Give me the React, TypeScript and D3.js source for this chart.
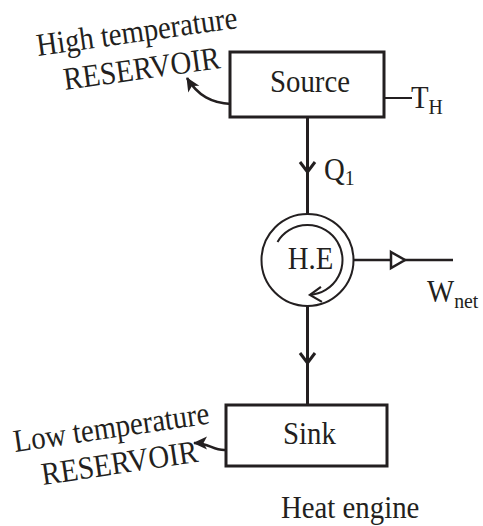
import { useEffect, useRef } from "react";
import * as d3 from "d3";

// diagram content
const boxLabels = ["Source", "Sink"];
const reservoirLabels = [
  ["High temperature", "RESERVOIR"],
  ["Low temperature", "RESERVOIR"],
];
const flowLabels = [
  { main: "Q", sub: "1" },
  { main: "W", sub: "net" },
];
const tempLabel = { main: "T", sub: "H" };
const engineLabel = "H.E";
const caption = "Heat engine";

const ink = "#231f20";
const font = "'Liberation Serif', 'Times New Roman', serif";
const fs = 32; // tall, slightly condensed serif
const squeeze = 0.9;

export default function App() {
  const svgRef = useRef<SVGSVGElement | null>(null);

  useEffect(() => {
    const width = 483;
    const height = 526;
    const svg = d3
      .select(svgRef.current)
      .attr("width", width)
      .attr("height", height);

    svg.selectAll("*").remove();

    const defs = svg.append("defs");
    defs
      .append("marker")
      .attr("id", "solidHead")
      .attr("viewBox", "-1 -7 16 14")
      .attr("refX", 13)
      .attr("refY", 0)
      .attr("markerWidth", 16)
      .attr("markerHeight", 14)
      .attr("markerUnits", "userSpaceOnUse")
      .attr("orient", "auto")
      .append("path")
      .attr("d", "M0,-6.5L14,0L0,6.5L3.5,0Z")
      .attr("fill", ink);

    const cx = 307.5;
    // vertical positions of the parts
    const y = d3
      .scaleOrdinal<string, number>()
      .domain(["sourceTop", "sourceBottom", "engine", "sinkTop", "sinkBottom"])
      .range([52, 117, 260, 405, 466]);
    const boxX = d3.scaleOrdinal<string, [number, number]>()
      .domain(boxLabels)
      .range([[230, 384], [226, 387]]);
    const r = 46;

    const g = svg.append("g");

    const label = (x: number, yy: number, txt: string, opts: { anchor?: string; rot?: number; size?: number } = {}) =>
      g.append("text")
        .attr("transform", `translate(${x},${yy}) rotate(${opts.rot ?? 0}) scale(${squeeze},1)`)
        .attr("text-anchor", opts.anchor ?? "start")
        .attr("font-family", font).attr("font-size", opts.size ?? fs)
        .attr("fill", ink)
        .text(txt);

    // main flow line
    g.append("line")
      .attr("x1", cx).attr("x2", cx)
      .attr("y1", y("sourceBottom")).attr("y2", y("engine") - r)
      .attr("stroke", ink).attr("stroke-width", 3);
    g.append("line")
      .attr("x1", cx).attr("x2", cx)
      .attr("y1", y("engine") + r).attr("y2", y("sinkTop"))
      .attr("stroke", ink).attr("stroke-width", 3);

    // chevrons on flow line
    const chevron = (yy: number) =>
      `M${cx - 7.5},${yy - 10}L${cx},${yy}L${cx + 7.5},${yy - 10}`;
    [172, 363].forEach((yy) => {
      g.append("path")
        .attr("d", chevron(yy))
        .attr("fill", "none")
        .attr("stroke", ink)
        .attr("stroke-width", 3);
    });

    // boxes
    const boxes = [
      { label: boxLabels[0], top: y("sourceTop"), bottom: y("sourceBottom"), ty: 92 },
      { label: boxLabels[1], top: y("sinkTop"), bottom: y("sinkBottom"), ty: 444 },
    ];
    boxes.forEach((b) => {
      const [x0, x1] = boxX(b.label);
      g.append("rect")
        .attr("x", x0).attr("y", b.top)
        .attr("width", x1 - x0).attr("height", b.bottom - b.top)
        .attr("fill", "#fff")
        .attr("stroke", ink).attr("stroke-width", 3);
      label((x0 + x1) / 2 + 3, b.ty, b.label, { anchor: "middle" });
    });

    // T_H tick
    g.append("line")
      .attr("x1", 384).attr("x2", 412)
      .attr("y1", 98).attr("y2", 98)
      .attr("stroke", ink).attr("stroke-width", 2);

    const subText = (x: number, yy: number, main: string, sub: string, dy: number) => {
      const t = label(x, yy, "");
      t.append("tspan").text(main);
      t.append("tspan")
        .attr("font-size", 22)
        .attr("dy", dy)
        .text(sub);
    };
    subText(411, 108, tempLabel.main, tempLabel.sub, 6);
    subText(324, 180, flowLabels[0].main, flowLabels[0].sub, 5);
    subText(427, 302, flowLabels[1].main, flowLabels[1].sub, 6);

    // engine circle
    const cy = y("engine");
    g.append("circle")
      .attr("cx", cx).attr("cy", cy).attr("r", r)
      .attr("fill", "#fff")
      .attr("stroke", ink).attr("stroke-width", 2);

    // cycle arc inside
    const ri = 35;
    const a0 = (-149 * Math.PI) / 180;
    const a1 = (86 * Math.PI) / 180;
    const p = d3.path();
    p.arc(cx, cy, ri, a0, a1, false);
    g.append("path")
      .attr("d", p.toString())
      .attr("fill", "none")
      .attr("stroke", ink).attr("stroke-width", 2);
    const tipX = cx + ri * Math.cos(a1);
    const tipY = cy + ri * Math.sin(a1);
    g.append("path")
      .attr("d", `M${tipX + 11},${tipY - 8}L${tipX},${tipY}L${tipX + 12},${tipY + 7}`)
      .attr("fill", "none")
      .attr("stroke", ink).attr("stroke-width", 2.2);

    label(cx + 3, 269, engineLabel, { anchor: "middle" });

    // work output line
    g.append("line")
      .attr("x1", cx + r).attr("x2", 453)
      .attr("y1", cy).attr("y2", cy)
      .attr("stroke", ink).attr("stroke-width", 2.5);
    g.append("path")
      .attr("d", `M391,${cy - 8}L405,${cy}L391,${cy + 8}Z`)
      .attr("fill", "#fff")
      .attr("stroke", ink).attr("stroke-width", 2.5);

    // reservoir labels
    const labelPos = [
      [[38, 56, -8], [65, 90, -8]],
      [[15, 452, -8.3], [43, 485, -8.5]],
    ];
    reservoirLabels.forEach((pair, i) => {
      pair.forEach((txt, j) => {
        const [x, yy, ang] = labelPos[i][j];
        label(x, yy, txt, { rot: ang });
      });
    });

    // curved pointers to reservoir labels
    g.append("path")
      .attr("d", "M231,104C212,103 198,96 187,78")
      .attr("fill", "none")
      .attr("stroke", ink).attr("stroke-width", 2.5)
      .attr("marker-end", "url(#solidHead)");
    g.append("path")
      .attr("d", "M226,450C213,451 210,443 194,443")
      .attr("fill", "none")
      .attr("stroke", ink).attr("stroke-width", 2.5)
      .attr("marker-end", "url(#solidHead)");

    // caption
    label(281, 518, caption);
  }, []);

  return (
    <svg
      ref={svgRef}
      style={{ position: "absolute", left: 0, top: 0, background: "#fff" }}
    />
  );
}
